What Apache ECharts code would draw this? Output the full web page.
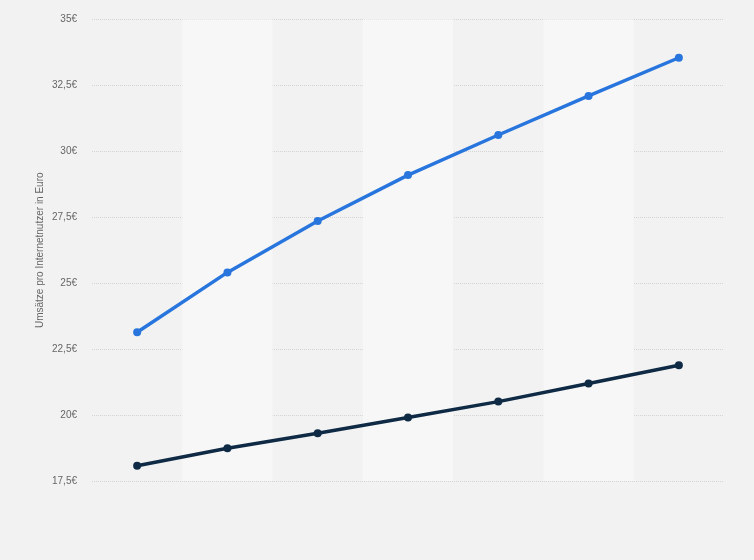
<!DOCTYPE html>
<html>
<head>
<meta charset="utf-8">
<script src="https://cdn.jsdelivr.net/npm/echarts@6/dist/echarts.min.js"></script>
<style>
html,body{margin:0;padding:0;background:#f2f2f2;}
#chart{width:754px;height:560px;}
</style>
</head>
<body>
<div id="chart"></div>
<script>
const categories = ['2017','2018','2019','2020','2021','2022','2023'];
const seriesBlue = [23.14, 25.41, 27.36, 29.10, 30.62, 32.10, 33.55];
const seriesDark = [18.08, 18.74, 19.31, 19.91, 20.51, 21.20, 21.89];
const yTicks = { min: 17.5, max: 35, interval: 2.5 };
const yAxisTitle = 'Umsätze pro Internetnutzer in Euro';

const chart = echarts.init(document.getElementById('chart'));
chart.setOption({
  backgroundColor: '#f2f2f2',
  animation: false,
  grid: { left: 92, right: 30, top: 19.5, bottom: 79 },
  xAxis: {
    type: 'category',
    data: categories,
    boundaryGap: true,
    axisLine: { show: false },
    axisTick: { show: false },
    axisLabel: { show: false },
    splitLine: { show: false },
    splitArea: { show: true, areaStyle: { color: ['rgba(0,0,0,0)', '#f7f7f7'] } }
  },
  yAxis: {
    type: 'value',
    min: yTicks.min,
    max: yTicks.max,
    interval: yTicks.interval,
    name: yAxisTitle,
    nameLocation: 'middle',
    nameMoveOverlap: false,
    nameGap: 47,
    nameTextStyle: { color: '#666', fontSize: 10, fontFamily: 'Liberation Sans, Arial, sans-serif' },
    axisLine: { show: false },
    axisTick: { show: false },
    axisLabel: {
      margin: 15,
      color: '#666',
      fontSize: 10,
      fontFamily: 'Liberation Sans, Arial, sans-serif',
      formatter: v => String(v).replace('.', ',') + '€'
    },
    splitLine: { show: true, lineStyle: { color: '#d4d4d4', type: [1, 1], width: 1 } }
  },
  series: [
    {
      type: 'line',
      data: seriesBlue,
      color: '#2876dd',
      lineStyle: { width: 3.5, color: '#2876dd' },
      symbol: 'circle',
      symbolSize: 8,
      itemStyle: { color: '#2876dd' },
      z: 3
    },
    {
      type: 'line',
      data: seriesDark,
      color: '#0f2a45',
      lineStyle: { width: 3.5, color: '#0f2a45' },
      symbol: 'circle',
      symbolSize: 8,
      itemStyle: { color: '#0f2a45' },
      z: 3
    }
  ]
});
</script>
</body>
</html>
